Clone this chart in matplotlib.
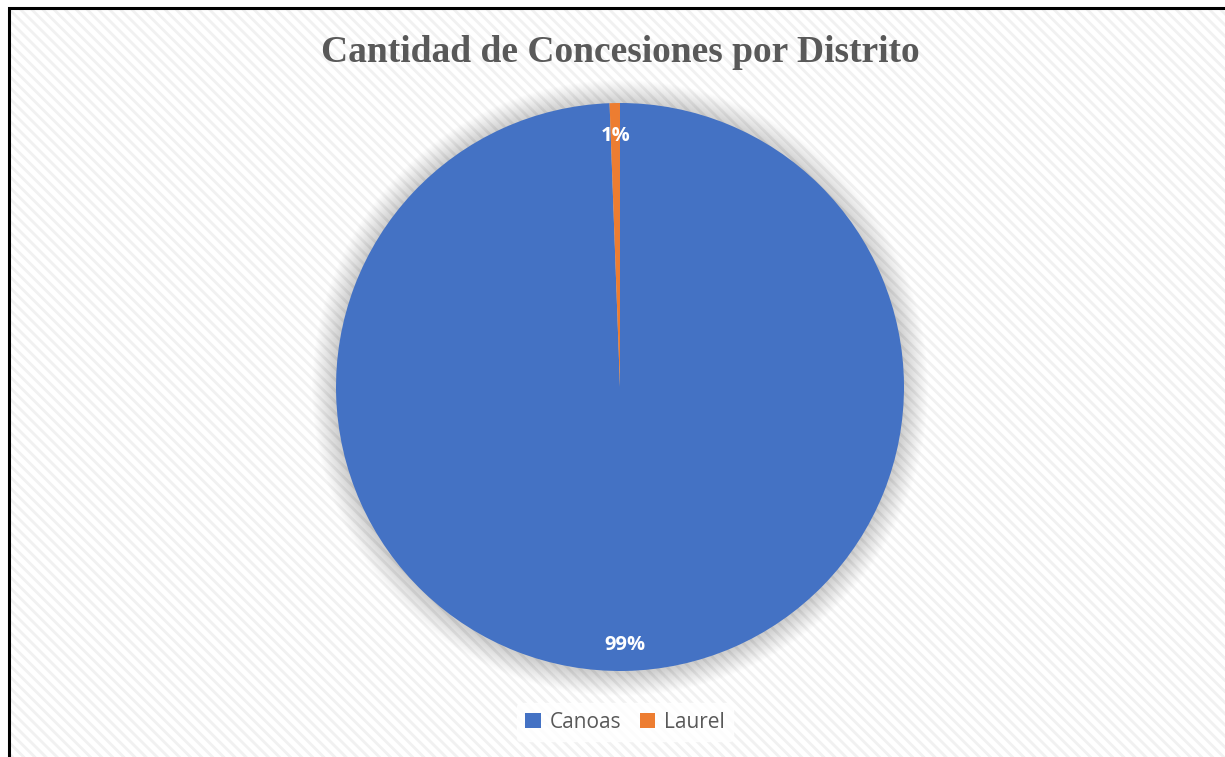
"""Pie chart: Cantidad de Concesiones por Distrito"""

import matplotlib.pyplot as plt
import matplotlib.transforms as mtransforms
from matplotlib.patches import Rectangle, Circle

distritos = ["Canoas", "Laurel"]
concesiones = [170, 1]
colores = ["#4472C4", "#ED7D31"]

W, H = 1225, 757
fig = plt.figure(figsize=(W / 100, H / 100), dpi=100)
fig.patch.set_facecolor("white")

# hatched background inside the chart border
plt.rcParams["hatch.linewidth"] = 2.0
plt.rcParams["hatch.color"] = "#f1f1f1"
bg = Rectangle((9 / W, 0), 1.0, 1 - 8 / H, transform=fig.transFigure,
               facecolor="white", edgecolor="#f1f1f1", hatch="\\\\\\",
               linewidth=0, zorder=-10)
fig.patches.append(bg)
border = Rectangle((9 / W, -0.05), 1.2, 1.05 - 8 / H, transform=fig.transFigure,
                   facecolor="none", edgecolor="black", linewidth=2.2, zorder=5)
fig.patches.append(border)

# pie axes: centre (620, 387), radius 284 px
cx, cy, r = 620, 387, 284
ax = fig.add_axes([(cx - r) / W, (H - cy - r) / H, 2 * r / W, 2 * r / H])
ax.patch.set_visible(False)

# soft shadow around the pie
for i in range(24):
    ax.add_patch(Circle((0, -0.003), 1.0 + 0.0035 * (i + 1), facecolor="black",
                        alpha=0.009, linewidth=0, zorder=0, clip_on=False))

wedges, texts, autotexts = ax.pie(
    concesiones, colors=colores, startangle=90, counterclock=False,
    radius=1.0, pctdistance=0.895,
    autopct=lambda p: f"{round(p):.0f}%",
    wedgeprops=dict(linewidth=0),
    textprops=dict(color="white", fontsize=14.5, fontweight="bold",
                   family="Open Sans"))
for w in wedges:
    w.set_zorder(2)
for t in autotexts:
    t.set_zorder(3)
    t.set_transform(mtransforms.offset_copy(ax.transData, fig=fig, x=0, y=-2.5, units="points"))

ax.set_xlim(-1, 1)
ax.set_ylim(-1, 1)
ax.set_aspect("equal")
ax.axis("off")

fig.text(620 / W, 1 - 52 / H, "Cantidad de Concesiones por Distrito",
         ha="center", va="center", fontsize=27, fontweight="bold",
         family="Liberation Serif", color="#595959")

leg = fig.legend(wedges, distritos, loc="center", bbox_to_anchor=(625 / W, 1 - 722 / H),
                 ncol=2, frameon=True, handlelength=0.75, handleheight=0.75,
                 handletextpad=0.4, columnspacing=0.9,
                 prop=dict(family="Open Sans", size=15))
leg.get_frame().set_facecolor("white")
leg.get_frame().set_edgecolor("white")
for t in leg.get_texts():
    t.set_color("#595959")

fig.savefig("out.png", dpi=100)
